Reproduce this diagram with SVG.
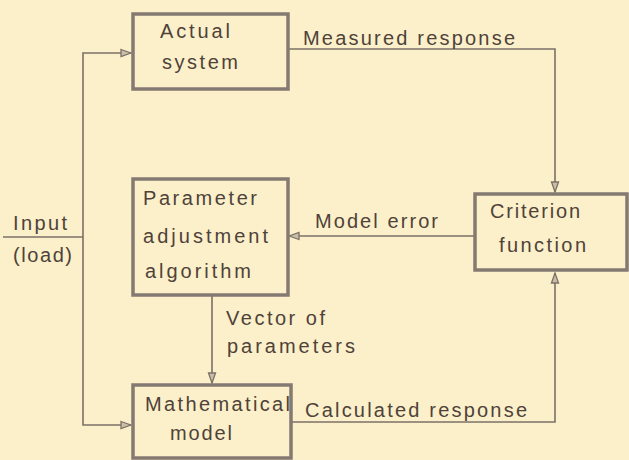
<svg xmlns="http://www.w3.org/2000/svg" width="629" height="460" viewBox="0 0 629 460">
<defs>
<style>
.box{fill:none;stroke:#857a72;stroke-width:3.5}
.ln{fill:none;stroke:#7d7068;stroke-width:1.6}
text{font-family:"Liberation Sans","DejaVu Sans",sans-serif;font-size:20px;fill:#4f423a}
</style>
<marker id="ah" markerUnits="userSpaceOnUse" markerWidth="12" markerHeight="10" viewBox="0 0 12 10" refX="11" refY="5" orient="auto">
<path d="M1,1.5 L11,5 L1,8.5 Z" fill="#c9bfa8" stroke="#7d7068" stroke-width="1.3"/>
</marker>
</defs>
<rect width="629" height="460" fill="#fbf0c9"/>
<g id="connectors">
<path class="ln" d="M3,237 H83"/>
<path class="ln" d="M83,237 V53 H131" marker-end="url(#ah)"/>
<path class="ln" d="M83,237 V425 H131" marker-end="url(#ah)"/>
<path class="ln" d="M288,49 H555 V192" marker-end="url(#ah)"/>
<path class="ln" d="M474,236 H289" marker-end="url(#ah)"/>
<path class="ln" d="M212,296 V383" marker-end="url(#ah)"/>
<path class="ln" d="M291,422 H555 V273" marker-end="url(#ah)"/>
<text x="303" y="45" textLength="212" lengthAdjust="spacing">Measured response</text>
<text x="315" y="228" textLength="123" lengthAdjust="spacing">Model error</text>
<text x="226" y="325" textLength="99" lengthAdjust="spacing">Vector of</text>
<text x="227" y="353" textLength="128" lengthAdjust="spacing">parameters</text>
<text x="305" y="417" textLength="222" lengthAdjust="spacing">Calculated response</text>
<text x="13" y="230" textLength="54" lengthAdjust="spacing">Input</text>
<text x="13" y="262" textLength="59" lengthAdjust="spacing">(load)</text>
</g>
<g id="actual-system">
<rect class="box" x="133" y="14" width="155" height="75"/>
<text x="160" y="38" textLength="70" lengthAdjust="spacing">Actual</text>
<text x="162" y="69" textLength="76" lengthAdjust="spacing">system</text>
</g>
<g id="criterion-function">
<rect class="box" x="475" y="194" width="152" height="76"/>
<text x="490" y="218" textLength="90" lengthAdjust="spacing">Criterion</text>
<text x="499" y="252" textLength="87" lengthAdjust="spacing">function</text>
</g>
<g id="parameter-adjustment">
<rect class="box" x="133" y="179" width="155" height="116"/>
<text x="143" y="205" textLength="114" lengthAdjust="spacing">Parameter</text>
<text x="143" y="243" textLength="125" lengthAdjust="spacing">adjustment</text>
<text x="145" y="278" textLength="106" lengthAdjust="spacing">algorithm</text>
</g>
<g id="mathematical-model">
<rect class="box" x="133" y="385" width="158" height="73"/>
<text x="145" y="411" textLength="145" lengthAdjust="spacing">Mathematical</text>
<text x="170" y="440" textLength="62" lengthAdjust="spacing">model</text>
</g>
</svg>
